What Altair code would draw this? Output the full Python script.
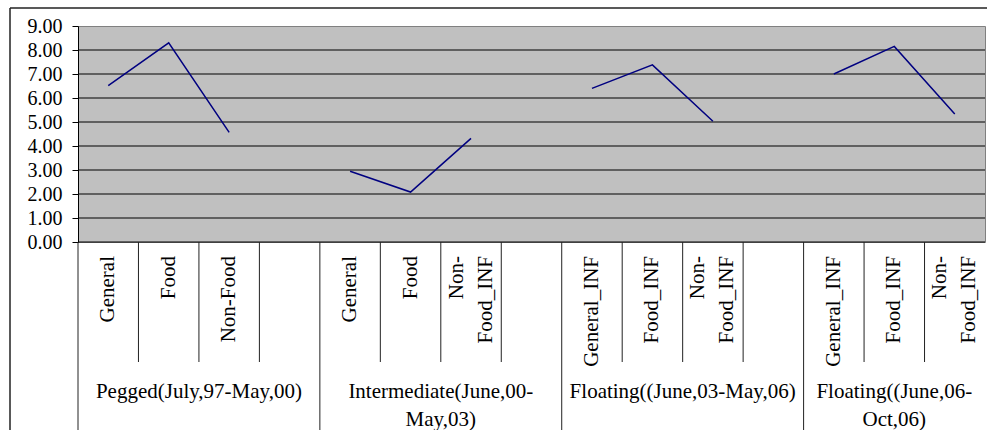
import altair as alt
import pandas as pd

# Inflation by exchange-rate regime (percent)
categories = [
    "General", "Food", "Non-Food", "",
    "General", "Food", "Non-\nFood_INF", "",
    "General_INF", "Food_INF", "Non-\nFood_INF", "",
    "General_INF", "Food_INF", "Non-\nFood_INF",
]
regimes = [
    "Pegged(July,97-May,00)",
    "Intermediate(June,00-\nMay,03)",
    "Floating((June,03-May,06)",
    "Floating((June,06-\nOct,06)",
]
inflation = [6.52, 8.30, 4.57, None,
             2.95, 2.08, 4.32, None,
             6.40, 7.38, 5.03, None,
             7.00, 8.15, 5.33]
y_ticks = [0, 1, 2, 3, 4, 5, 6, 7, 8, 9]

W, H = 907, 216
FONT = "Liberation Serif"
n = len(categories)

points = pd.DataFrame({
    "pos": [i + 0.5 for i in range(n)],
    "category": categories,
    "regime": [regimes[i // 4] for i in range(n)],
    "value": inflation,
})
line_pts = points.dropna(subset=["value"])
single_cats = points[~points["category"].str.contains("\n")]
double_cats = points[points["category"].str.contains("\n")]

groups = pd.DataFrame({
    "regime": regimes,
    "center": [(4 * g + min(4 * g + 4, n)) / 2 for g in range(len(regimes))],
})
inner_bounds = pd.DataFrame({"b": [i for i in range(1, n) if i % 4 != 0]})
group_bounds = pd.DataFrame({"b": [4 * g for g in range(len(regimes))]})
grid = pd.DataFrame({"v": y_ticks[1:-1]})
zero = pd.DataFrame({"v": [0]})
one = pd.DataFrame({"k": [0]})

xs = alt.Scale(domain=[0, n], nice=False, zero=False)
ys = alt.Scale(domain=[0, 9], nice=False)
y_axis = alt.Axis(
    values=y_ticks, format=".2f", title=None, grid=False,
    domain=True, domainColor="#000000", domainWidth=1,
    ticks=True, tickColor="#000000", tickSize=6, tickWidth=1,
    labelFont=FONT, labelFontSize=20, labelColor="#000000",
    labelPadding=10,
)

gridlines = alt.Chart(grid).mark_rule(color="#000000", strokeWidth=1).encode(
    y=alt.Y("v:Q", scale=ys, axis=y_axis)
)
baseline = alt.Chart(zero).mark_rule(color="#000000", strokeWidth=1).encode(
    y=alt.Y("v:Q", scale=ys, axis=y_axis)
)

line = alt.Chart(line_pts).mark_line(color="#000080", strokeWidth=1.5).encode(
    x=alt.X("pos:Q", scale=xs, axis=None),
    y=alt.Y("value:Q", scale=ys, axis=y_axis),
    detail="regime:N",
)

cat_sep = alt.Chart(inner_bounds).mark_rule(color="#222222", strokeWidth=1).encode(
    x=alt.X("b:Q", scale=xs, axis=None),
    y=alt.value(H),
    y2=alt.value(H + 120),
)
grp_sep = alt.Chart(group_bounds).mark_rule(color="#222222", strokeWidth=1).encode(
    x=alt.X("b:Q", scale=xs, axis=None),
    y=alt.value(H),
    y2=alt.value(H + 200),
)

label_style = dict(
    font=FONT, fontSize=21, color="#000000", angle=270,
    align="right", baseline="middle", lineBreak="\n", lineHeight=29,
)
cat_labels_1 = alt.Chart(single_cats).mark_text(**label_style).encode(
    x=alt.X("pos:Q", scale=xs, axis=None),
    y=alt.value(H + 14),
    text="category:N",
)
# two-line labels: shift the block so both lines sit around the slot centre
cat_labels_2 = alt.Chart(double_cats).mark_text(dy=-14.5, **label_style).encode(
    x=alt.X("pos:Q", scale=xs, axis=None),
    y=alt.value(H + 14),
    text="category:N",
)

grp_labels = alt.Chart(groups).mark_text(
    font=FONT, fontSize=21, color="#000000",
    align="center", baseline="alphabetic", lineBreak="\n", lineHeight=28,
).encode(
    x=alt.X("center:Q", scale=xs, axis=None),
    y=alt.value(H + 156),
    text="regime:N",
)

frame_top = alt.Chart(one).mark_rule(color="#222222", strokeWidth=1.5).encode(
    x=alt.value(-68), x2=alt.value(W + 20), y=alt.value(-18)
)
frame_left = alt.Chart(one).mark_rule(color="#222222", strokeWidth=1.5).encode(
    x=alt.value(-68), y=alt.value(-18), y2=alt.value(H + 220)
)

chart = alt.layer(
    gridlines, baseline, cat_sep, grp_sep, line, cat_labels_1, cat_labels_2,
    grp_labels, frame_top, frame_left,
).properties(
    width=W,
    height=H,
    autosize=alt.AutoSizeParams(type="none"),
    padding={"left": 78, "top": 26, "right": 2, "bottom": 188},
    background="#ffffff",
).configure_view(
    stroke="#808080", strokeWidth=1, fill="#C0C0C0"
)

chart.save("out.html", embed_options={"renderer": "svg", "actions": False})
